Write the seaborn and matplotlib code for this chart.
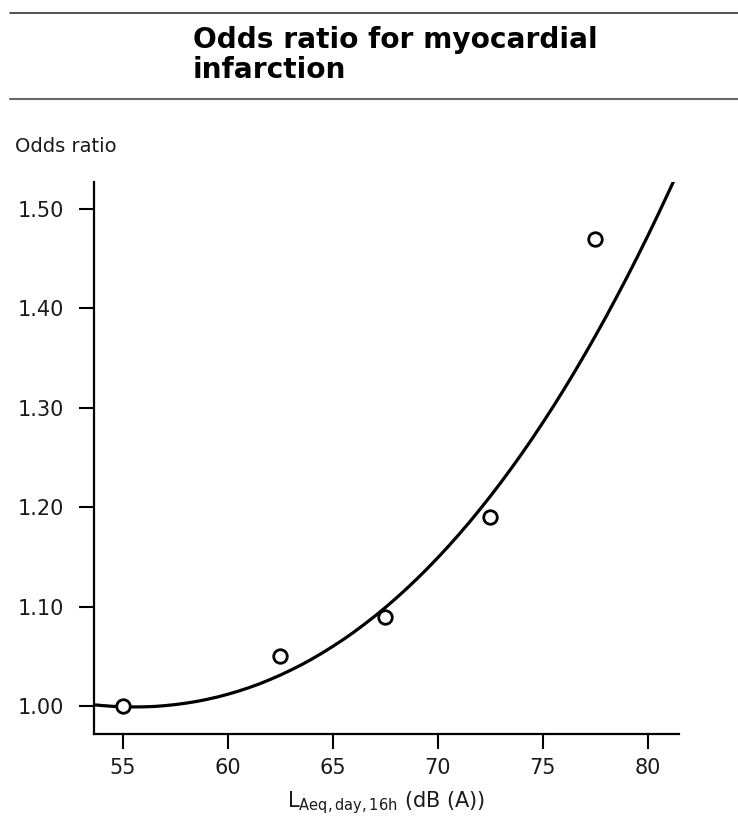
import matplotlib
matplotlib.use("Agg")
import matplotlib.pyplot as plt
from matplotlib.lines import Line2D
import seaborn as sns
import pandas as pd

# Observed odds ratios per noise-level class
obs_level = [55, 62.5, 67.5, 72.5, 77.5]
obs_or = [1.00, 1.05, 1.09, 1.19, 1.47]

# Fitted dose-response curve, sampled every half decibel
curve_level = [53.6, 54, 54.5, 55, 55.5, 56, 56.5, 57, 57.5, 58, 58.5, 59, 59.5,
               60, 60.5, 61, 61.5, 62, 62.5, 63, 63.5, 64, 64.5, 65, 65.5, 66,
               66.5, 67, 67.5, 68, 68.5, 69, 69.5, 70, 70.5, 71, 71.5, 72, 72.5,
               73, 73.5, 74, 74.5, 75, 75.5, 76, 76.5, 77, 77.5, 78, 78.5, 79,
               79.5, 80, 80.5, 81, 81.25]
curve_or = [1.0014, 1.0006, 0.9998, 0.9994, 0.9992, 0.9993, 0.9997, 1.0005,
            1.0016, 1.0030, 1.0047, 1.0068, 1.0092, 1.0120, 1.0151, 1.0186,
            1.0224, 1.0267, 1.0313, 1.0363, 1.0416, 1.0474, 1.0536, 1.0602,
            1.0671, 1.0745, 1.0824, 1.0906, 1.0993, 1.1084, 1.1180, 1.1280,
            1.1385, 1.1494, 1.1608, 1.1727, 1.1850, 1.1979, 1.2112, 1.2250,
            1.2393, 1.2541, 1.2694, 1.2853, 1.3016, 1.3185, 1.3359, 1.3539,
            1.3724, 1.3914, 1.4111, 1.4312, 1.4519, 1.4732, 1.4951, 1.5176,
            1.5290]

x_ticks = [55, 60, 65, 70, 75, 80]
y_ticks = [1.00, 1.10, 1.20, 1.30, 1.40, 1.50]
y_tick_labels = ["1.00", "1.10", "1.20", "1.30", "1.40", "1.50"]

sns.set_theme(style="white")
plt.rcParams["font.family"] = ["DejaVu Sans"]
plt.rcParams["mathtext.default"] = "regular"

fig = plt.figure(figsize=(7.38, 8.19), dpi=100)
ax = fig.add_axes([0.1274, 0.1038, 0.7927, 0.674])

obs = pd.DataFrame({"level": obs_level, "or": obs_or})
fit = pd.DataFrame({"level": curve_level, "or": curve_or})

sns.lineplot(data=fit, x="level", y="or", ax=ax, color="black", linewidth=2.3,
             sort=True, estimator=None)
sns.scatterplot(data=obs, x="level", y="or", ax=ax, s=95, facecolor="white",
                edgecolor="black", linewidth=2.0, zorder=5, clip_on=False)

ax.set_xlim(53.62, 81.48)
ax.set_ylim(0.972, 1.527)
ax.set_xticks(x_ticks)
ax.set_yticks(y_ticks)
ax.set_yticklabels(y_tick_labels)
ax.tick_params(axis="both", which="major", direction="out", length=10.5,
               width=1.5, color="black", labelsize=15, labelcolor="#1a1a1a",
               left=True, bottom=True)
ax.tick_params(axis="y", pad=11)
ax.tick_params(axis="x", pad=7)

sns.despine(ax=ax)
for side in ("left", "bottom"):
    ax.spines[side].set_color("black")
    ax.spines[side].set_linewidth(1.6)

ax.set_xlabel(r"L$_{\mathrm{Aeq,day,16h}}$ (dB (A))", fontsize=15,
              color="#1a1a1a", labelpad=8)
ax.set_ylabel("")

# Header block: rules above and below the title
fig.add_artist(Line2D([10 / 738, 1.0], [1 - 13 / 819, 1 - 13 / 819],
                      color="#333333", linewidth=1.2))
fig.add_artist(Line2D([10 / 738, 1.0], [1 - 99 / 819, 1 - 99 / 819],
                      color="#666666", linewidth=1.5))
fig.text(193 / 738, 1 - 55 / 819, "Odds ratio for myocardial\ninfarction",
         fontsize=20.2, fontweight="bold", color="black", ha="left",
         va="center", linespacing=1.12)
fig.text(15 / 738, 1 - 146 / 819, "Odds ratio", fontsize=14, color="#1a1a1a",
         ha="left", va="center")

fig.savefig("out.png", dpi=100, facecolor="white")
